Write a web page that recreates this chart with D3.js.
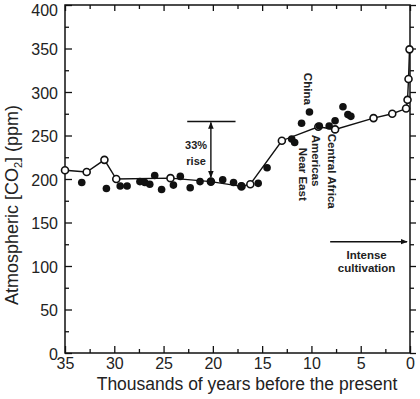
<!DOCTYPE html>
<html>
<head>
<meta charset="utf-8">
<script src="https://cdn.jsdelivr.net/npm/d3@7"></script>
<style>
body { margin: 0; background: #fff; }
svg { display: block; font-family: "Liberation Sans", Arial, sans-serif; }
</style>
</head>
<body>
<div id="chart"></div>
<script>
const WIDTH = 420;
const HEIGHT = 399;

// ice core record (open circles joined by a line)
const coreYears = [35, 32.8, 31.0, 29.8, 24.3, 20.2, 17.1, 16.2, 13.0, 9.3, 7.6, 3.7, 1.8, 0.4, 0.25, 0.15, 0.05];
const coreCO2 = [210, 208, 222, 200, 201, 197, 191.5, 194, 244, 260, 257, 270, 275, 281, 291, 315, 349];

// filled dots
const dotYears = [33.3, 30.8, 29.4, 28.7, 27.4, 26.9, 26.4, 25.9, 25.2, 24.0, 23.3, 22.3, 21.3, 20.2, 19.0, 17.9,
  17.1, 15.4, 14.5, 12.0, 11.7, 11.0, 10.2, 9.2, 8.2, 7.6, 6.8, 6.3, 6.0];
const dotCO2 = [196, 189, 192, 192, 197, 196, 194, 204, 188, 193, 203, 190, 197, 197, 199, 196,
  192, 195, 213, 246, 242, 264, 277, 261, 261, 267, 283, 274, 272];

const xTicks = [35, 30, 25, 20, 15, 10, 5, 0];
const xMinor = [32.5, 27.5, 22.5, 17.5, 12.5, 7.5, 2.5];
const yTicks = [0, 50, 100, 150, 200, 250, 300, 350, 400];
const yMinor = [25, 75, 125, 175, 225, 275, 325, 375];

const regionNames = ["China", "Near East", "Americas", "Central Africa"];
const regionYears = [10.35, 10.85, 9.55, 7.9];
const regionTops = [322, 236, 251, 252];

const svg = d3.select("#chart").append("svg")
  .attr("width", WIDTH)
  .attr("height", HEIGHT);

const x = d3.scaleLinear().domain([35, 0]).range([65, 410]);
const y = d3.scaleLinear().domain([0, 400]).range([353, 5]);

svg.append("defs").append("marker")
  .attr("id", "head")
  .attr("viewBox", "0 0 10 10")
  .attr("refX", 9).attr("refY", 5)
  .attr("markerWidth", 7).attr("markerHeight", 7)
  .attr("markerUnits", "userSpaceOnUse")
  .attr("orient", "auto-start-reverse")
  .append("path")
  .attr("d", "M0,1 L10,5 L0,9 Z")
  .attr("fill", "#111");

// ticks, all pointing into the frame except on the right
function addAxis(axis, tx, ty, labels) {
  const g = svg.append("g").attr("transform", `translate(${tx},${ty})`).call(axis);
  g.select(".domain").remove();
  g.selectAll(".tick line").attr("stroke", "#111").attr("stroke-width", 1.3);
  if (labels) {
    g.selectAll(".tick text").attr("font-size", 16).attr("fill", "#222")
      .attr("font-family", "'Liberation Sans', Arial, sans-serif");
  }
  return g;
}

addAxis(d3.axisBottom(x).tickValues(xTicks).tickSize(-7).tickPadding(5).tickFormat(d3.format("d")), 0, 353, true);
addAxis(d3.axisBottom(x).tickValues(xMinor).tickSize(-4).tickFormat(""), 0, 353, false);
addAxis(d3.axisTop(x).tickValues(xTicks).tickSize(-6).tickFormat(""), 0, 5, false);
addAxis(d3.axisTop(x).tickValues(xMinor).tickSize(-4).tickFormat(""), 0, 5, false);
const yAx = addAxis(d3.axisLeft(y).tickValues(yTicks).tickSize(-7).tickPadding(7).tickFormat(d3.format("d")), 65, 0, true);
yAx.selectAll(".tick text").attr("y", d => d === 400 ? 5 : 1);
addAxis(d3.axisLeft(y).tickValues(yMinor).tickSize(-4).tickFormat(""), 65, 0, false);
addAxis(d3.axisRight(y).tickValues(yTicks).tickSize(6).tickFormat(""), 410, 0, false);
addAxis(d3.axisRight(y).tickValues(yMinor).tickSize(4).tickFormat(""), 410, 0, false);

// frame
svg.append("rect")
  .attr("x", x(35)).attr("y", y(400))
  .attr("width", x(0) - x(35)).attr("height", y(0) - y(400))
  .attr("fill", "none").attr("stroke", "#111").attr("stroke-width", 1.5);

// axis titles
svg.append("text")
  .attr("x", 247).attr("y", 390)
  .attr("text-anchor", "middle")
  .attr("font-size", 17.5).attr("fill", "#222")
  .text("Thousands of years before the present");

const yt = svg.append("text")
  .attr("transform", "translate(18,205) rotate(-90)")
  .attr("text-anchor", "middle")
  .attr("font-size", 18).attr("fill", "#222");
yt.append("tspan").text("Atmospheric [CO");
yt.append("tspan").attr("font-size", 11).attr("dy", 4).text("2");
yt.append("tspan").attr("dy", -4).text("] (ppm)");

// core line
const line = d3.line().x((d, i) => x(coreYears[i])).y((d, i) => y(coreCO2[i]));
svg.append("path")
  .datum(coreYears)
  .attr("d", line)
  .attr("fill", "none")
  .attr("stroke", "#111")
  .attr("stroke-width", 1.4);

svg.append("g").selectAll("circle")
  .data(coreYears)
  .join("circle")
  .attr("cx", d => x(d))
  .attr("cy", (d, i) => y(coreCO2[i]))
  .attr("r", 3.5)
  .attr("fill", "#fff")
  .attr("stroke", "#111")
  .attr("stroke-width", 1.6);

svg.append("g").selectAll("circle")
  .data(dotYears)
  .join("circle")
  .attr("cx", d => x(d))
  .attr("cy", (d, i) => y(dotCO2[i]))
  .attr("r", 3.8)
  .attr("fill", "#111");

// 33% rise
svg.append("line")
  .attr("x1", x(22.6)).attr("x2", x(17.7))
  .attr("y1", y(266)).attr("y2", y(266))
  .attr("stroke", "#111").attr("stroke-width", 1.5);
svg.append("line")
  .attr("x1", x(20.2)).attr("x2", x(20.2))
  .attr("y1", y(265)).attr("y2", y(202))
  .attr("stroke", "#111").attr("stroke-width", 1.4)
  .attr("marker-start", "url(#head)")
  .attr("marker-end", "url(#head)");
svg.append("text")
  .attr("x", x(21.7)).attr("y", y(235))
  .attr("text-anchor", "middle").attr("font-size", 11).attr("font-weight", "bold").attr("fill", "#222")
  .text("33%");
svg.append("text")
  .attr("x", x(21.7)).attr("y", y(216))
  .attr("text-anchor", "middle").attr("font-size", 11).attr("font-weight", "bold").attr("fill", "#222")
  .text("rise");

// region labels
svg.append("g").selectAll("text")
  .data(regionNames)
  .join("text")
  .attr("transform", (d, i) => `translate(${x(regionYears[i])},${y(regionTops[i])}) rotate(90)`)
  .attr("dy", "0.35em")
  .attr("font-size", 11.5).attr("font-weight", "bold").attr("fill", "#222")
  .text(d => d);

// intense cultivation
svg.append("line")
  .attr("x1", x(8.1)).attr("x2", x(0.3))
  .attr("y1", y(128)).attr("y2", y(128))
  .attr("stroke", "#111").attr("stroke-width", 1.5)
  .attr("marker-end", "url(#head)");
svg.append("text")
  .attr("x", x(4.4)).attr("y", y(108))
  .attr("text-anchor", "middle").attr("font-size", 11.5).attr("font-weight", "bold").attr("fill", "#222")
  .text("Intense");
svg.append("text")
  .attr("x", x(4.4)).attr("y", y(93))
  .attr("text-anchor", "middle").attr("font-size", 11.5).attr("font-weight", "bold").attr("fill", "#222")
  .text("cultivation");
</script>
</body>
</html>
